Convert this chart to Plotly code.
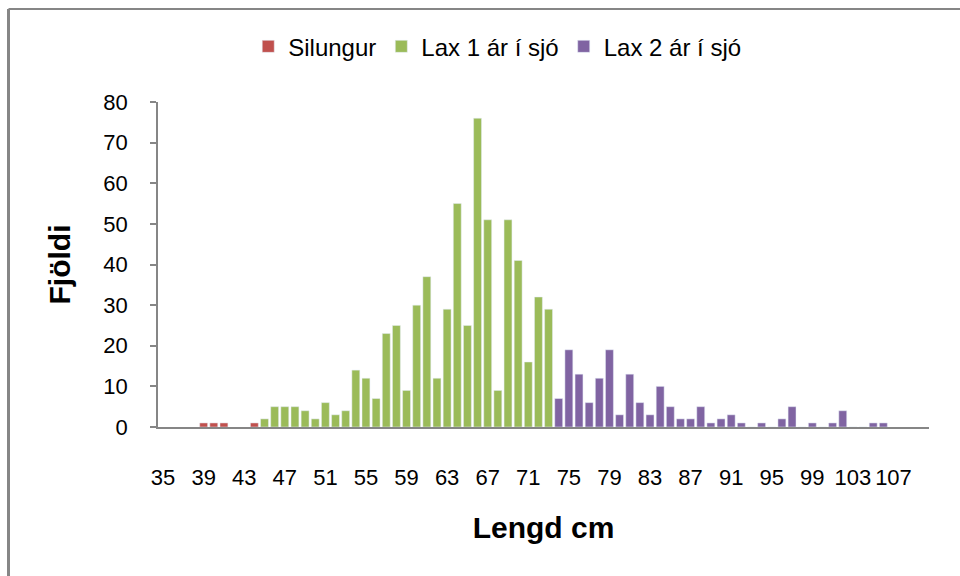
import plotly.graph_objects as go

# Length categories (cm) and tick labels
categories = list(range(35, 111))
tick_labels = [str(v) for v in range(35, 108, 4)]

# Series: Silungur
silungur_x = [39, 40, 41, 44]
silungur_y = [1, 1, 1, 1]

# Series: Lax 1 ár í sjó
lax1_x = list(range(45, 74))
lax1_y = [2, 5, 5, 5, 4, 2, 6, 3, 4,
          14, 12, 7, 23, 25, 9, 30, 37, 12, 29,
          55, 25, 76, 51, 9, 51, 41, 16, 32, 29]

# Series: Lax 2 ár í sjó
lax2_x = list(range(74, 107))
lax2_y = [7, 19, 13, 6, 12, 19, 3, 13, 6, 3, 10,
          5, 2, 2, 5, 1, 2, 3, 1, 0, 1, 0,
          2, 5, 0, 1, 0, 1, 4, 0, 0, 1, 1]

FONT = "Liberation Sans, Arial, sans-serif"

fig = go.Figure()
fig.add_trace(go.Bar(x=silungur_x, y=silungur_y, name="Silungur", marker_color="#C0504D"))
fig.add_trace(go.Bar(x=lax1_x, y=lax1_y, name="Lax 1 ár í sjó", marker_color="#9BBB59"))
fig.add_trace(go.Bar(x=lax2_x, y=lax2_y, name="Lax 2 ár í sjó", marker_color="#8064A2"))

fig.update_layout(
    width=960, height=576,
    margin=dict(l=158, r=31, t=102, b=149, autoexpand=False),
    paper_bgcolor="white", plot_bgcolor="white",
    barmode="overlay", bargap=0.22,
    font=dict(family=FONT, size=22, color="black"),
    showlegend=True,
    legend=dict(orientation="h", x=0.44, xanchor="center", y=1.17, yanchor="middle",
                font=dict(size=24), traceorder="normal", itemwidth=30),
    shapes=[
        dict(type="line", xref="paper", yref="paper", x0=-0.1939, x1=-0.1939, y0=-0.6, y1=1.286,
             line=dict(color="#868686", width=3)),
        dict(type="line", xref="paper", yref="paper", x0=-0.1939, x1=1.2, y0=1.286, y1=1.286,
             line=dict(color="#868686", width=2)),
    ],
)

fig.update_xaxes(
    range=[categories[0] - 0.5, categories[-1] + 0.5],
    tickmode="array", tickvals=[int(t) for t in tick_labels], ticktext=tick_labels,
    ticks="", showgrid=False, zeroline=False, automargin=False,
    showline=True, linecolor="#868686", linewidth=2,
    ticklabelstandoff=30,
    tickfont=dict(size=22),
    title=dict(text="<b>Lengd cm</b>", font=dict(size=30), standoff=28),
)
fig.update_yaxes(
    range=[0, 80], tickmode="linear", tick0=0, dtick=10,
    ticks="outside", ticklen=6, tickcolor="#868686", tickwidth=1.5,
    showgrid=False, zeroline=False, automargin=False,
    showline=True, linecolor="#868686", linewidth=1.5,
    ticklabelstandoff=18,
    tickfont=dict(size=22),
    title=dict(text="<b>Fjöldi</b>", font=dict(size=30), standoff=24),
)

fig.write_html("out.html",
               config={"displayModeBar": False},
               post_script="document.body.style.margin='0';document.body.style.overflow='hidden';")
